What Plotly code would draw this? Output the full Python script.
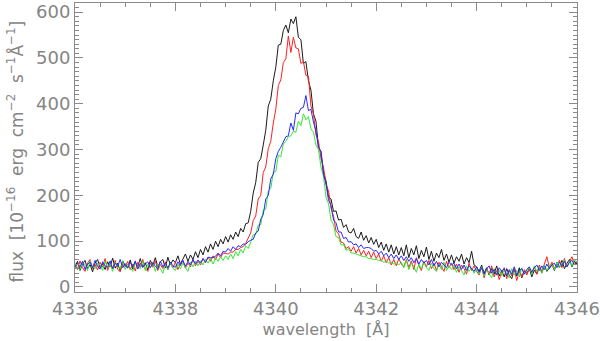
import numpy as np
import plotly.graph_objects as go

# wavelength grid start and step (Angstrom)
wl_start = 4336.0
wl_step = 0.05

flux_black = [
    45, 56, 36, 50, 58, 40, 49, 33, 52, 60,
    42, 51, 38, 55, 44, 63, 41, 52, 35, 57,
    46, 42, 59, 39, 54, 45, 62, 43, 53, 37,
    58, 47, 64, 44, 55, 60, 42, 65, 48, 59,
    53, 68, 50, 62, 72, 56, 70, 60, 77, 64,
    82, 70, 88, 76, 94, 82, 100, 88, 104, 94,
    110, 98, 114, 104, 120, 110, 128, 120, 138, 140,
    165, 205, 228, 272, 280, 310, 342, 395, 410, 450,
    480, 528, 530, 560, 572, 555, 585, 575, 590, 545,
    540, 488, 492, 450, 430, 378, 362, 305, 296, 250,
    232, 196, 192, 165, 166, 146, 148, 130, 136, 120,
    118, 128, 110, 106, 120, 102, 112, 96, 108, 93,
    104, 86, 98, 80, 94, 76, 92, 72, 88, 70,
    86, 68, 92, 64, 84, 70, 90, 62, 80, 66,
    87, 60, 78, 56, 74, 64, 82, 58, 72, 54,
    70, 52, 66, 56, 72, 50, 64, 53, 78, 48,
    44, 34, 48, 30, 42, 26, 40, 28, 46, 24,
    36, 22, 40, 26, 18, 38, 24, 42, 20, 34,
    30, 40, 22, 37, 28, 44, 31, 47, 34, 42,
    50, 36, 54, 42, 58, 40, 52, 60, 44, 56,
    50,
]

flux_red = [
    48, 38, 57, 42, 34, 52, 60, 40, 49, 37,
    54, 43, 62, 36, 51, 41, 58, 39, 33, 52,
    44, 56, 38, 50, 35, 54, 42, 60, 40, 34,
    52, 43, 57, 36, 49, 40, 55, 38, 51, 42,
    54, 38, 50, 57, 41, 52, 44, 60, 46, 56,
    48, 62, 53, 65, 56, 68, 60, 72, 64, 74,
    73, 72, 76, 76, 82, 82, 86, 88, 95, 106,
    118, 145, 155, 192, 200, 250, 262, 302, 318, 358,
    388, 440, 452, 490, 498, 548, 512, 545, 522, 520,
    488, 492, 462, 460, 395, 378, 332, 318, 280, 262,
    224, 210, 172, 155, 122, 116, 98, 96, 84, 88,
    78, 88, 74, 84, 70, 80, 68, 78, 64, 76,
    62, 72, 56, 68, 53, 64, 48, 60, 46, 62,
    50, 44, 60, 42, 57, 38, 64, 46, 36, 56,
    44, 58, 40, 52, 36, 54, 43, 34, 56, 42,
    52, 38, 50, 32, 48, 40, 28, 52, 36, 46,
    34, 26, 44, 20, 40, 28, 46, 22, 36, 16,
    32, 42, 18, 36, 24, 40, 14, 34, 22, 38,
    26, 40, 32, 44, 28, 48, 34, 50, 66, 42,
    54, 40, 50, 58, 42, 62, 44, 54, 66, 48,
    56,
]

flux_blue = [
    42, 52, 44, 56, 38, 50, 54, 42, 58, 45,
    39, 55, 46, 43, 57, 40, 52, 45, 60, 42,
    51, 41, 54, 44, 57, 39, 52, 43, 50, 55,
    42, 53, 45, 40, 56, 44, 52, 41, 54, 46,
    43, 55, 47, 58, 45, 56, 48, 60, 50, 59,
    52, 62, 54, 65, 64, 64, 67, 74, 68, 78,
    76, 84, 78, 88, 82, 90, 88, 94, 93, 99,
    102, 104, 118, 122, 148, 158, 192, 200, 236, 246,
    280, 296, 305, 315, 328, 330, 358, 342, 380, 378,
    390, 392, 418, 385, 388, 360, 340, 305, 295, 245,
    225, 190, 178, 146, 140, 120, 120, 106, 108, 98,
    99, 92, 94, 86, 92, 84, 86, 86, 84, 78,
    80, 72, 78, 68, 74, 64, 72, 62, 70, 60,
    68, 58, 66, 56, 64, 53, 62, 50, 60, 52,
    58, 48, 60, 46, 56, 44, 54, 48, 42, 54,
    48, 52, 40, 50, 38, 48, 36, 46, 40, 34,
    44, 32, 42, 28, 40, 46, 30, 38, 26, 42,
    34, 40, 24, 38, 28, 44, 26, 36, 40, 28,
    38, 44, 32, 42, 48, 36, 46, 38, 50, 40,
    48, 52, 42, 54, 46, 56, 44, 54, 58, 48,
    54,
]

flux_green = [
    52, 42, 38, 54, 49, 36, 57, 43, 40, 52,
    48, 36, 56, 42, 50, 34, 54, 44, 40, 57,
    38, 50, 42, 34, 52, 44, 40, 56, 36, 49,
    42, 54, 34, 50, 40, 30, 48, 38, 52, 41,
    36, 50, 40, 52, 42, 34, 54, 44, 56, 46,
    57, 48, 60, 52, 62, 50, 64, 56, 66, 58,
    68, 60, 72, 62, 77, 68, 82, 74, 90, 84,
    98, 114, 115, 135, 136, 168, 170, 210, 215, 250,
    252, 288, 284, 312, 318, 328, 330, 340, 338, 362,
    352, 378, 365, 372, 345, 338, 310, 300, 262, 242,
    196, 182, 146, 136, 110, 108, 92, 92, 80, 84,
    74, 74, 72, 70, 68, 66, 66, 62, 62, 60,
    60, 58, 58, 54, 56, 52, 54, 50, 52, 48,
    54, 42, 58, 38, 52, 44, 32, 50, 40, 54,
    42, 36, 52, 40, 34, 50, 38, 54, 36, 46,
    38, 48, 32, 44, 36, 26, 46, 34, 42, 30,
    40, 28, 44, 24, 38, 30, 20, 40, 26, 36,
    24, 38, 28, 20, 40, 26, 36, 22, 42, 28,
    36, 42, 28, 46, 34, 44, 30, 48, 36, 46,
    50, 38, 54, 42, 52, 58, 44, 56, 46, 60,
    52,
]

x_tick_vals = [4336, 4338, 4340, 4342, 4344, 4346]
y_tick_vals = [0, 100, 200, 300, 400, 500, 600]
x_title = "wavelength  [Å]"
y_title = "flux  [10<sup>−16</sup>  erg  cm<sup>−2</sup>  s<sup>−1</sup>Å<sup>−1</sup>]"

series = [
    ("black", flux_black, "#1a1a1a"),
    ("red", flux_red, "#ff2020"),
    ("green", flux_green, "#33e833"),
    ("blue", flux_blue, "#2a2aff"),
]

fig = go.Figure()
for name, ys, col in series:
    xs = wl_start + wl_step * np.arange(len(ys))
    fig.add_trace(go.Scatter(x=xs, y=ys, mode="lines", name=name,
                             line=dict(color=col, width=1)))

axis_col = "#8a8a8a"
text_col = "#858585"
font_family = "DejaVu Sans"

fig.update_layout(
    width=600, height=341,
    margin=dict(l=75, r=23, t=3, b=49),
    paper_bgcolor="white", plot_bgcolor="white",
    showlegend=False,
    font=dict(family=font_family, color=text_col),
    xaxis=dict(
        range=[4336, 4346], tickvals=x_tick_vals,
        ticktext=[str(v) for v in x_tick_vals],
        ticks="inside", ticklen=8, tickcolor=axis_col, tickwidth=1,
        minor=dict(dtick=0.5, ticks="inside", ticklen=4, tickcolor=axis_col),
        showline=True, linecolor=axis_col, linewidth=1, mirror="ticks",
        showgrid=False, zeroline=False, automargin=False,
        tickfont=dict(size=18, color=text_col),
        title=dict(text=x_title, font=dict(size=16, color=text_col), standoff=6),
    ),
    yaxis=dict(
        range=[-11, 620], tickvals=y_tick_vals,
        ticktext=[str(v) for v in y_tick_vals],
        ticks="inside", ticklen=8, tickcolor=axis_col, tickwidth=1,
        minor=dict(dtick=10, ticks="inside", ticklen=4, tickcolor=axis_col),
        showline=True, linecolor=axis_col, linewidth=1, mirror="ticks",
        showgrid=False, zeroline=False, automargin=False,
        tickfont=dict(size=18, color=text_col),
    ),
    annotations=[dict(
        text=y_title, xref="paper", yref="paper", x=0, y=0.5,
        xanchor="center", yanchor="middle", xshift=-60, yshift=-4,
        textangle=-90, showarrow=False,
        font=dict(size=17, color=text_col, family=font_family),
    )],
)

fig.write_html("out.html",
               config={"displayModeBar": False},
               post_script="document.body.style.margin='0';document.body.style.padding='0';")
